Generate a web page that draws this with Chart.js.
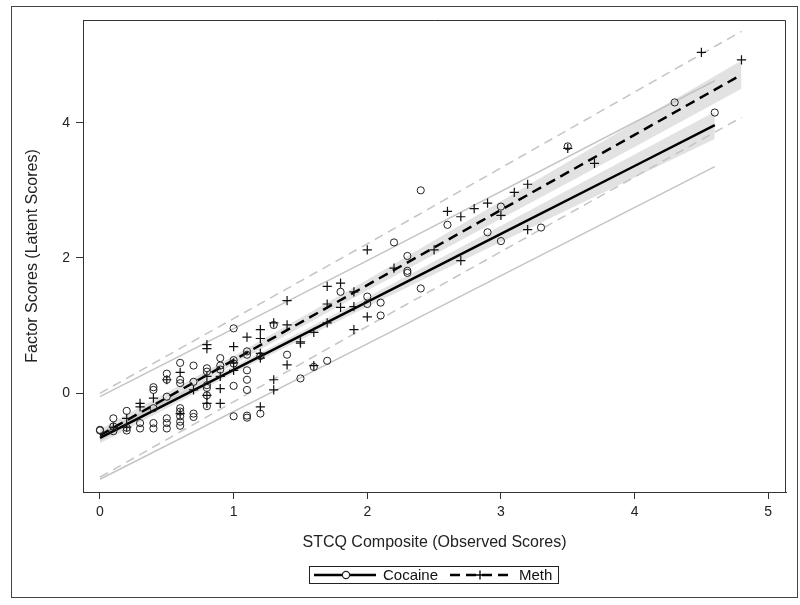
<!DOCTYPE html>
<html><head><meta charset="utf-8">
<script src="https://cdn.jsdelivr.net/npm/chart.js@4.4.1/dist/chart.umd.min.js"></script>
<style>html,body{margin:0;padding:0;background:#fff}#wrap{width:800px;height:605px;position:relative}</style>
</head><body><div id="wrap"><canvas id="c"></canvas></div>
<script>
// ---- Data ----
const cocaineX = [0,0,0.1,0.1,0.1,0.2,0.2,0.2,0.3,0.3,0.4,0.4,0.4,0.4,0.4,0.5,0.5,0.5,0.5,0.5,0.5,
  0.6,0.6,0.6,0.6,0.6,0.6,0.6,0.6,0.7,0.7,0.7,0.7,0.8,0.8,0.8,0.8,0.8,0.8,0.9,0.9,0.9,
  1.0,1.0,1.0,1.0,1.0,1.1,1.1,1.1,1.1,1.1,1.1,1.1,1.2,1.2,1.3,1.4,1.5,1.6,1.7,1.8,
  2.0,2.0,2.1,2.1,2.2,2.3,2.3,2.3,2.4,2.4,2.6,2.9,3.0,3.0,3.3,3.5,4.3,4.6];
const cocaineY = [-0.54,-0.55,-0.37,-0.49,-0.56,-0.26,-0.51,-0.55,-0.44,-0.52,0.09,0.05,-0.22,-0.44,-0.52,0.29,0.2,-0.05,-0.37,-0.44,-0.52,
  0.45,0.2,0.15,-0.22,-0.27,-0.34,-0.42,-0.48,0.41,0.17,-0.35,-0.30,0.37,0.32,0.12,0.08,-0.03,-0.19,0.52,0.41,0.35,
  0.96,0.49,0.44,0.11,-0.34,0.62,0.57,0.34,0.2,0.05,-0.33,-0.36,0.55,-0.30,1.01,0.57,0.22,0.39,0.48,1.50,
  1.43,1.32,1.34,1.15,2.23,2.03,1.81,1.78,3.0,1.55,2.49,2.38,2.76,2.25,2.45,3.65,4.30,4.15];
const methX = [0.1,0.2,0.2,0.3,0.3,0.4,0.5,0.6,0.6,0.7,0.8,0.8,0.8,0.8,0.8,0.9,0.9,0.9,
  1.0,1.0,1.0,1.1,1.2,1.2,1.2,1.2,1.2,1.3,1.3,1.3,1.4,1.4,1.4,1.5,1.5,1.6,1.6,1.7,1.7,1.7,
  1.8,1.8,1.9,1.9,1.9,2.0,2.0,2.2,2.5,2.6,2.7,2.7,2.8,2.9,3.0,3.1,3.2,3.2,3.5,3.7,4.5,4.8];
const methY = [-0.5,-0.37,-0.5,-0.15,-0.2,-0.07,0.2,0.31,-0.3,0.05,0.72,0.66,0.25,-0.03,-0.15,0.25,0.07,-0.15,
  0.69,0.34,0.45,0.83,0.94,0.81,0.59,0.52,-0.2,1.04,0.2,0.05,1.37,1.01,0.42,0.76,0.74,0.9,0.41,1.58,1.32,1.04,
  1.63,1.27,1.50,1.28,0.94,2.12,1.13,1.85,2.12,2.69,2.61,1.96,2.73,2.81,2.63,2.97,3.09,2.42,3.62,3.40,5.04,4.93];

// fitted lines and limits
const cocaineFitX = [0, 1, 2, 3, 4, 4.6];
const cocaineFitY = [-0.66, 0.345, 1.35, 2.355, 3.36, 3.963];
const cocaineCLLower = [-0.74, 0.295, 1.28, 2.235, 3.19, 3.76];
const cocaineCLUpper = [-0.58, 0.395, 1.42, 2.475, 3.53, 4.16];
const cocainePredX = [0, 2, 4.6];
const cocainePredLower = [-1.27, 0.73, 3.35];
const cocainePredUpper = [-0.05, 1.96, 4.62];

const methFitX = [0, 1, 2, 3, 4, 4.8];
const methFitY = [-0.62, 0.49, 1.60, 2.71, 3.82, 4.71];
const methCLLower = [-0.71, 0.43, 1.52, 2.58, 3.64, 4.50];
const methCLUpper = [-0.53, 0.55, 1.68, 2.84, 4.00, 4.92];
const methPredX = [0, 2, 4.8];
const methPredLower = [-1.24, 0.99, 4.08];
const methPredUpper = [0.0, 2.21, 5.35];

const xTicks = [0, 1, 2, 3, 4, 5];
const yTicks = [0, 2, 4];
const xTitle = 'STCQ Composite (Observed Scores)';
const yTitle = 'Factor Scores (Latent Scores)';
const seriesNames = ['Cocaine', 'Meth'];

// ---- build ----
const pts = (xs, ys) => xs.map((x, i) => ({x: x, y: ys[i]}));
const FONT = "'Liberation Sans', Arial, sans-serif";
const bandFill = 'rgba(150,150,150,0.28)';
const lineDef = (data, extra) => Object.assign({
  data: data, showLine: true, pointRadius: 0, pointHoverRadius: 0, fill: false,
  borderColor: '#000', borderWidth: 1, tension: 0
}, extra);

const datasets = [
  lineDef(pts(cocaineFitX, cocaineCLLower), {borderWidth: 0, borderColor: 'rgba(0,0,0,0)', order: 20}),
  lineDef(pts(cocaineFitX, cocaineCLUpper), {borderWidth: 0, borderColor: 'rgba(0,0,0,0)', fill: '-1', backgroundColor: bandFill, order: 19}),
  lineDef(pts(methFitX, methCLLower), {borderWidth: 0, borderColor: 'rgba(0,0,0,0)', order: 18}),
  lineDef(pts(methFitX, methCLUpper), {borderWidth: 0, borderColor: 'rgba(0,0,0,0)', fill: '-1', backgroundColor: bandFill, order: 17}),
  lineDef(pts(cocainePredX, cocainePredLower), {borderColor: '#c4c4c4', borderWidth: 1.5, order: 16}),
  lineDef(pts(cocainePredX, cocainePredUpper), {borderColor: '#c4c4c4', borderWidth: 1.5, order: 15}),
  lineDef(pts(methPredX, methPredLower), {borderColor: '#c4c4c4', borderWidth: 1.5, borderDash: [9, 6], order: 14}),
  lineDef(pts(methPredX, methPredUpper), {borderColor: '#c4c4c4', borderWidth: 1.5, borderDash: [9, 6], order: 13}),
  lineDef(pts(cocaineFitX, cocaineFitY), {borderColor: '#000', borderWidth: 2.5, order: 4}),
  lineDef(pts(methFitX, methFitY), {borderColor: '#000', borderWidth: 2.5, borderDash: [10, 6], order: 3}),
  {label: seriesNames[0], data: pts(cocaineX, cocaineY), pointStyle: 'circle', pointRadius: 3.6,
   pointBorderWidth: 1, pointBorderColor: '#222', pointBackgroundColor: 'rgba(0,0,0,0)', showLine: false, order: 2},
  {label: seriesNames[1], data: pts(methX, methY), pointStyle: 'cross', pointRadius: 4.6,
   pointBorderWidth: 1.2, pointBorderColor: '#111', pointBackgroundColor: 'rgba(0,0,0,0)', showLine: false, order: 1}
];

const framePlugin = {
  id: 'frame',
  afterDraw(chart) {
    const ctx = chart.ctx, a = chart.chartArea;
    ctx.save();
    ctx.strokeStyle = '#333'; ctx.lineWidth = 1;
    ctx.beginPath();
    ctx.moveTo(a.left, a.top + 0.5);
    ctx.lineTo(a.right - 0.5, a.top + 0.5);
    ctx.lineTo(a.right - 0.5, a.bottom);
    ctx.stroke();
    // outer frame
    ctx.strokeStyle = '#444';
    ctx.strokeRect(11.5, 6.5, 786, 591);
    // legend
    ctx.fillStyle = '#fff';
    ctx.strokeStyle = '#222';
    ctx.fillRect(309.5, 566.5, 249, 17);
    ctx.strokeRect(309.5, 566.5, 249, 17);
    const cy = 575;
    ctx.lineWidth = 2.5; ctx.strokeStyle = '#000';
    ctx.beginPath(); ctx.moveTo(314, cy); ctx.lineTo(376, cy); ctx.stroke();
    ctx.lineWidth = 1.2; ctx.strokeStyle = '#222';
    ctx.beginPath(); ctx.arc(346, cy, 3.6, 0, Math.PI * 2); ctx.fillStyle = '#fff'; ctx.fill(); ctx.stroke();
    ctx.lineWidth = 2.5; ctx.strokeStyle = '#000';
    ctx.setLineDash([10, 6]);
    ctx.beginPath(); ctx.moveTo(450, cy); ctx.lineTo(509, cy); ctx.stroke();
    ctx.setLineDash([]);
    ctx.lineWidth = 1.3;
    ctx.beginPath(); ctx.moveTo(480, cy - 4.6); ctx.lineTo(480, cy + 4.6);
    ctx.moveTo(475.4, cy); ctx.lineTo(484.6, cy); ctx.stroke();
    ctx.fillStyle = '#111';
    ctx.font = '15px ' + FONT;
    ctx.textBaseline = 'middle'; ctx.textAlign = 'left';
    ctx.fillText(seriesNames[0], 383, cy + 0.5);
    ctx.fillText(seriesNames[1], 519, cy + 0.5);
    ctx.restore();
  }
};

new Chart(document.getElementById('c'), {
  type: 'scatter',
  data: {datasets: datasets},
  options: {
    responsive: true, maintainAspectRatio: false, animation: false,
    layout: {padding: {left: 13, top: 20, right: 14, bottom: 0}},
    plugins: {legend: {display: false}, tooltip: {enabled: false}},
    elements: {line: {tension: 0}},
    scales: {
      x: {
        type: 'linear', min: -0.127, max: 5.133,
        afterBuildTicks: s => { s.ticks = xTicks.map(v => ({value: v})); },
        afterFit: s => { s.height = 113; },
        grid: {drawOnChartArea: false, drawTicks: true, tickLength: 7, color: '#333', tickColor: '#333'},
        border: {display: true, color: '#333', width: 1},
        ticks: {padding: 5, color: '#222', font: {size: 14, family: FONT}, maxRotation: 0, callback: v => String(v)},
        title: {display: true, text: xTitle, color: '#222', font: {size: 16, family: FONT}, padding: {top: 0, bottom: 53}}
      },
      y: {
        type: 'linear', min: -1.459, max: 5.518,
        afterBuildTicks: s => { s.ticks = yTicks.map(v => ({value: v})); },
        afterFit: s => { s.width = 70; },
        grid: {drawOnChartArea: false, drawTicks: true, tickLength: 7, color: '#333', tickColor: '#333'},
        border: {display: true, color: '#333', width: 1},
        ticks: {padding: 6, color: '#222', font: {size: 14, family: FONT}, callback: v => String(v)},
        title: {display: true, text: yTitle, color: '#222', font: {size: 16, family: FONT}, padding: {top: 10, bottom: 0}}
      }
    }
  },
  plugins: [framePlugin]
});
</script>
</body></html>
